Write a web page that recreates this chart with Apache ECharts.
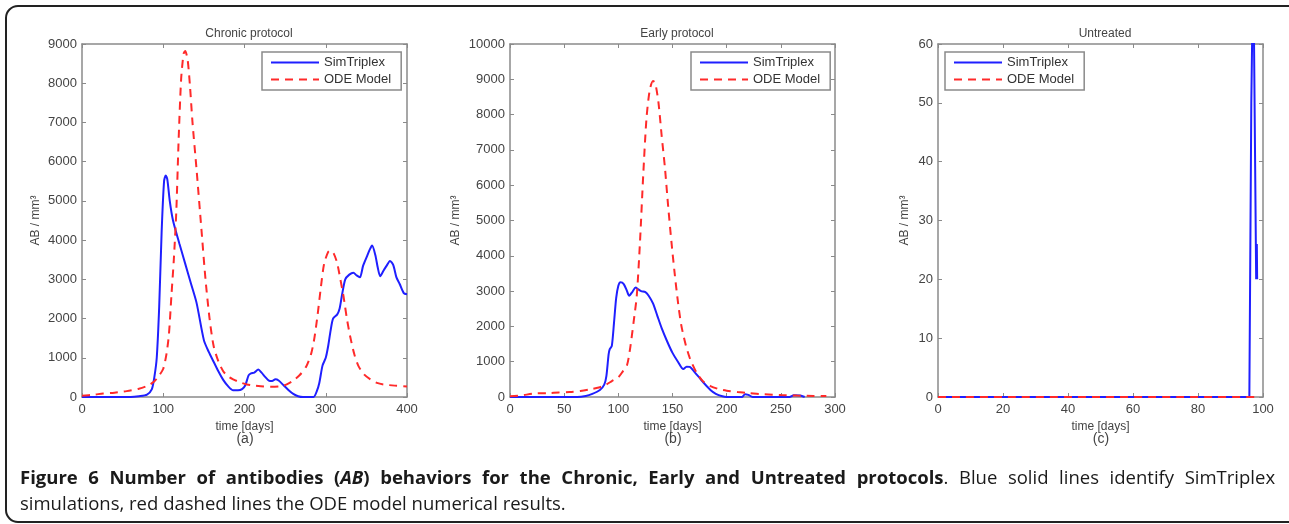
<!DOCTYPE html>
<html>
<head>
<meta charset="utf-8">
<script src="https://cdn.jsdelivr.net/npm/echarts@6/dist/echarts.min.js"></script>
<style>
  html, body { margin: 0; padding: 0; background: #fff; }
  #chart { width: 1289px; height: 524px; }
</style>
</head>
<body>
<div id="chart"></div>
<script>
// panel titles and axis ticks
const panelTitles = ['Chronic protocol', 'Early protocol', 'Untreated']
const panelTags = ['(a)', '(b)', '(c)']
const xMax = [400, 300, 100]
const xStep = [100, 50, 20]
const yMax = [9000, 10000, 60]
const yStep = [1000, 1000, 10]

// [day, AB/mm3]
const chronicSim = [[0,0],[60,0],[70,20],[80,60],[86,200],[89,500],[92,1000],[95,2300],[98,4200],[101,5500],[103,5650],[105,5550],[108,5000],[112,4500],[120,3900],[127,3400],[134,2900],[141,2400],[150,1450],[156,1150],[162,900],[168,650],[174,430],[180,270],[186,170],[192,170],[197,200],[201,300],[205,550],[208,600],[212,620],[217,700],[221,620],[226,500],[230,420],[234,410],[238,450],[242,420],[248,300],[254,180],[260,80],[266,20],[272,0],[285,0],[289,150],[292,350],[296,800],[300,1000],[303,1300],[306,1700],[309,2000],[314,2100],[317,2250],[320,2600],[324,3000],[329,3120],[334,3170],[338,3100],[342,3050],[346,3350],[351,3600],[354,3750],[357,3860],[361,3620],[364,3300],[367,3080],[371,3220],[375,3350],[379,3470],[383,3370],[387,3050],[391,2880],[396,2650],[400,2620]]
const chronicOde = [[0,30],[15,60],[26,90],[40,110],[55,150],[70,210],[80,280],[88,380],[95,550],[100,720],[104,1100],[107,1600],[110,2570],[113,3500],[116,4700],[119,6600],[122,8100],[125,8750],[127,8820],[130,8600],[133,7900],[136,7000],[141,5800],[147,4270],[152,3000],[157,2000],[162,1300],[168,900],[174,650],[180,520],[186,450],[195,370],[203,320],[212,290],[220,275],[232,260],[244,270],[252,320],[260,420],[268,560],[276,780],[282,1100],[286,1500],[290,2100],[294,2800],[298,3400],[303,3700],[306,3740],[310,3650],[314,3420],[318,3000],[322,2550],[326,2000],[330,1550],[335,1100],[340,800],[347,580],[355,450],[363,360],[371,320],[385,290],[400,270]]
const earlySim = [[0,0],[62,0],[70,30],[76,90],[83,200],[87,350],[89,600],[91,1200],[92,1350],[94,1450],[96,2100],[98,2800],[100,3150],[102,3250],[105,3200],[108,3000],[110,2870],[113,2980],[116,3100],[118,3060],[121,3000],[125,2970],[128,2870],[132,2650],[136,2300],[140,1950],[145,1580],[150,1250],[155,1000],[160,790],[163,860],[166,850],[170,720],[175,540],[180,360],[185,200],[190,90],[196,20],[200,0],[214,0],[217,80],[220,60],[224,0],[258,0],[262,50],[268,40],[272,0]]
const earlyOde = [[0,20],[10,40],[22,100],[35,110],[45,130],[55,140],[65,170],[75,220],[82,270],[88,340],[94,450],[100,560],[104,720],[108,900],[111,1400],[114,2100],[117,2860],[120,4400],[123,6300],[126,7900],[129,8700],[132,8950],[134,8900],[137,8350],[140,7400],[143,6500],[146,5400],[149,4400],[152,3500],[155,2700],[158,2050],[162,1500],[166,1100],[172,700],[178,450],[185,310],[192,230],[200,180],[210,140],[220,110],[235,75],[250,55],[265,40],[280,30],[292,25]]
const untreatedSim = [[0,0],[95.8,0],[96.4,50],[96.8,50],[97.0,75],[97.6,75],[97.9,20],[98.1,26],[98.2,20]]
const untreatedOde = [[0,0],[98,0]]

const simSets = [chronicSim, earlySim, untreatedSim]
const odeSets = [chronicOde, earlyOde, untreatedOde]

const gridLeft = [82, 510, 938]
const legendLeft = [262, 691, 945]
const gray = '#8a8a8a'
const labelColor = '#444'
const font = 'Liberation Sans, Arial, sans-serif'
const blue = '#1f1fff'
const red = '#ff2a2a'

let myChart = echarts.init(document.getElementById('chart'))

function frameAxis(extra) {
  return Object.assign({
    type: 'value',
    axisLine: { show: true, onZero: false, lineStyle: { color: gray, width: 1.5 } },
    axisTick: { show: true, inside: true, length: 4, lineStyle: { color: gray } },
    axisLabel: { show: false },
    splitLine: { show: false }
  }, extra)
}

let grids = [], xAxes = [], yAxes = [], series = [], titles = [], legends = []
for (let i = 0; i < 3; i++) {
  grids.push({ left: gridLeft[i], top: 44, width: 325, height: 353, show: false })
  titles.push({
    text: panelTitles[i], left: gridLeft[i] + 162, top: 23, textAlign: 'center',
    textStyle: { fontSize: 12, fontWeight: 'normal', color: labelColor, fontFamily: font }
  })
  // bottom axis with labels
  xAxes.push(frameAxis({
    gridIndex: i, position: 'bottom', min: 0, max: xMax[i], interval: xStep[i],
    name: 'time [days]', nameLocation: 'middle', nameGap: 22,
    nameTextStyle: { fontSize: 12, color: labelColor, fontFamily: font },
    axisLabel: { show: true, color: labelColor, fontSize: 13, margin: 6, fontFamily: font, formatter: v => String(v) }
  }))
  // top mirror axis
  xAxes.push(frameAxis({ gridIndex: i, position: 'top', min: 0, max: xMax[i], interval: xStep[i] }))
  yAxes.push(frameAxis({
    gridIndex: i, position: 'left', min: 0, max: yMax[i], interval: yStep[i],
    name: 'AB / mm³', nameLocation: 'middle', nameRotate: 90,
    nameGap: i == 2 ? 27 : (i == 1 ? 48 : 40),
    nameTextStyle: { fontSize: 12, color: labelColor, fontFamily: font },
    axisLabel: { show: true, color: labelColor, fontSize: 13, margin: 5, fontFamily: font, formatter: v => String(v) }
  }))
  // right mirror axis
  yAxes.push(frameAxis({ gridIndex: i, position: 'right', min: 0, max: yMax[i], interval: yStep[i] }))
  series.push({
    name: 'SimTriplex', type: 'line', xAxisIndex: i * 2, yAxisIndex: i * 2,
    data: simSets[i], showSymbol: false, symbol: 'none', smooth: i == 2 ? false : 0.25, clip: true,
    lineStyle: { color: blue, width: 2 }, itemStyle: { color: blue }
  })
  series.push({
    name: 'ODE Model', type: 'line', xAxisIndex: i * 2, yAxisIndex: i * 2,
    data: odeSets[i], showSymbol: false, symbol: 'none', smooth: 0.25, clip: true,
    lineStyle: { color: red, width: 2, type: [8, 6] }, itemStyle: { color: red }
  })
  legends.push({
    left: legendLeft[i], top: 52, orient: 'vertical', data: ['SimTriplex', 'ODE Model'],
    backgroundColor: '#fff', borderColor: gray, borderWidth: 1.5, borderRadius: 0,
    padding: [4, 10, 4, 8], itemGap: 4, itemWidth: 48, itemHeight: 13,
    itemStyle: { opacity: 0 },
    textStyle: { fontSize: 13, color: '#333', fontFamily: font }, selectedMode: false
  })
}

let graphics = [
  {
    type: 'rect', shape: { x: 6, y: 6, width: 1300, height: 516, r: 12 },
    style: { fill: 'none', stroke: '#222', lineWidth: 2 }, silent: true
  }
]
for (let i = 0; i < 3; i++) {
  graphics.push({
    type: 'text', x: gridLeft[i] + 163, y: 439,
    style: { text: panelTags[i], fontSize: 14, fill: labelColor, fontFamily: font, align: 'center', verticalAlign: 'middle' }
  })
}

// caption, first line justified: every space becomes a fixed-width gap
const capSize = 18.5
const gap = '{s| }'
function words(style, txt) {
  return txt.split(' ').map(w => '{' + style + '|' + w + '}').join(gap)
}
const captionLine1 =
  words('b', 'Figure 6 Number of antibodies (') + '{bi|AB}' +
  words('b', ') behaviors for the Chronic, Early and Untreated protocols') +
  '{n|.}' + gap + words('n', 'Blue solid lines identify SimTriplex')
graphics.push({
  type: 'text', x: 20, y: 479,
  style: {
    text: captionLine1.replace('(}' + gap, '(}'),
    verticalAlign: 'middle',
    rich: {
      b: { fontSize: capSize, fontWeight: 'bold', fill: '#1a1a1a', fontFamily: 'Open Sans' },
      bi: { fontSize: capSize, fontWeight: 'bold', fontStyle: 'italic', fill: '#1a1a1a', fontFamily: 'Open Sans' },
      n: { fontSize: capSize, fill: '#1a1a1a', fontFamily: 'Open Sans' },
      s: { fontSize: capSize, width: 10.6, fontFamily: 'Open Sans' }
    }
  }
})
graphics.push({
  type: 'text', x: 20, y: 505,
  style: { text: 'simulations, red dashed lines the ODE model numerical results.', verticalAlign: 'middle', fontSize: capSize, fill: '#1a1a1a', fontFamily: 'Open Sans' }
})

let option = {
  animation: false,
  title: titles,
  legend: legends,
  grid: grids,
  xAxis: xAxes,
  yAxis: yAxes,
  series: series,
  graphic: graphics
}
myChart.setOption(option)
</script>
</body>
</html>
